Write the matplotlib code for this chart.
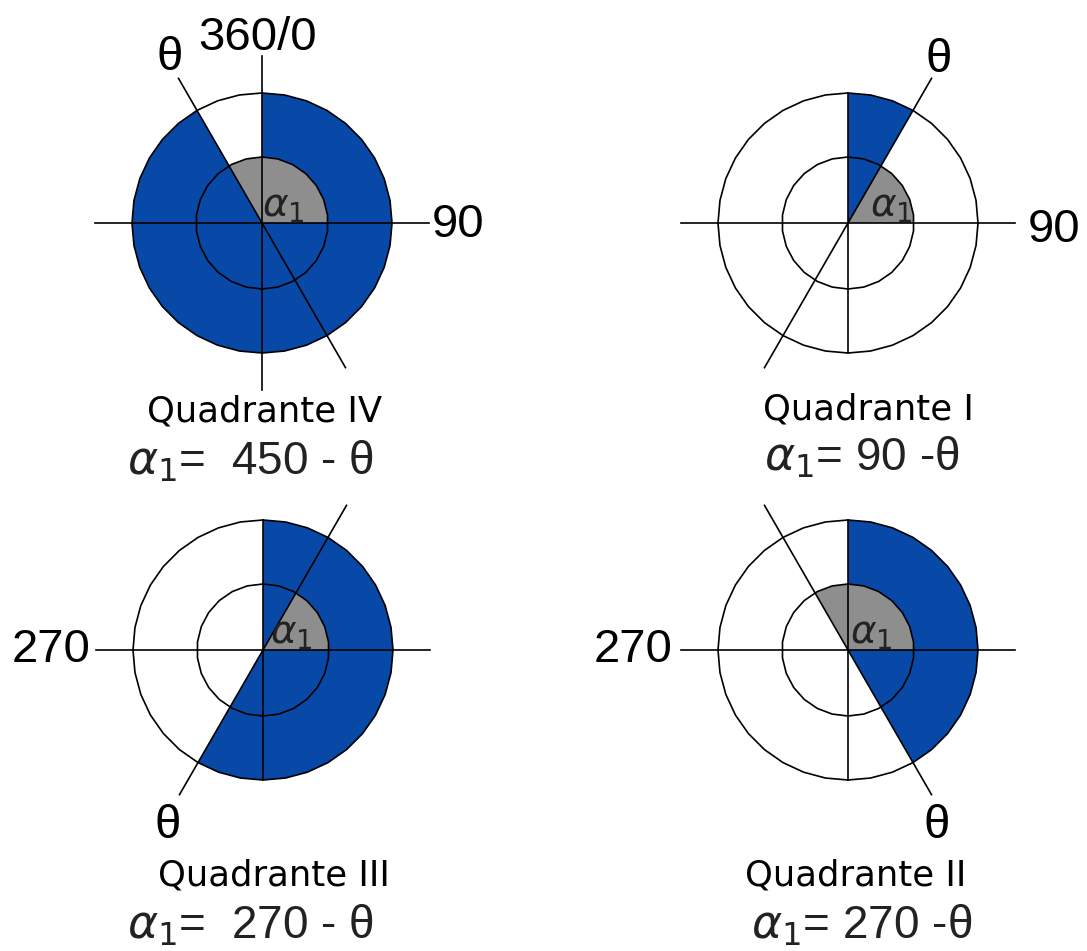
import numpy as np
import matplotlib.pyplot as plt
from matplotlib.patches import Polygon

# Dados de cada quadrante (azimute medido a partir do norte, sentido horario)
quadrantes = ['Quadrante IV', 'Quadrante I', 'Quadrante III', 'Quadrante II']
theta = [330, 30, 210, 150]          # direcao da linha theta
alpha1 = [120, 60, 60, 120]          # angulo alpha1 (setor cinza terminando em 90)
formulas = ['=  450 - θ', '= 90 -θ', '=  270 - θ', '= 270 -θ']
rotulos = ['90', '90', '270', '270']

# Layout (pixels da figura)
centros = [(262, 223), (848, 223), (263, 650), (848, 650)]
R_ext, R_int, L = 130, 66, 167
pos_rotulo = [(432, 237), (1028, 242), (90, 662), (673, 662)]
pos_theta = [(170, 70), (939, 72), (168, 838), (937, 838)]
pos_quad = [(265, 422), (868, 420), (274, 885), (856, 885)]
pos_form = [(250, 475), (862, 470), (250, 938), (862, 938)]
desloc_alpha = [(0, -6), (22, -6), (7, -6), (2, -6)]

azul = '#0849a8'
cinza = '#8e8e8e'


def raio_poligono(a, R, n):
    # raio de um poligono regular (circulo levemente facetado) no azimute a
    passo = 360.0 / n
    t = np.radians((a % passo) - passo / 2)
    return R * np.cos(np.radians(passo / 2)) / np.cos(t)


def ponto(c, r, a):
    return c[0] + r * np.sin(np.radians(a)), c[1] - r * np.cos(np.radians(a))


def setor(c, a0, a1, R, n):
    ang = np.linspace(a0, a1, 300)
    xs, ys = ponto(c, raio_poligono(ang, R, n), ang)
    return np.vstack([[c], np.column_stack([xs, ys])])


fig = plt.figure(figsize=(10.87, 9.51), dpi=100)
ax = fig.add_axes([0, 0, 1, 1])
ax.set_xlim(0, 1087)
ax.set_ylim(951, 0)
ax.axis('off')

fonte = ['Liberation Sans', 'DejaVu Sans']
n_ext, n_int = 36, 26

for i, c in enumerate(centros):
    # setor azul de 0 ate theta
    ax.add_patch(Polygon(setor(c, 0, theta[i], R_ext, n_ext), closed=True,
                         facecolor=azul, edgecolor='none', zorder=1))
    # setor cinza alpha1 no circulo interno
    ax.add_patch(Polygon(setor(c, 90 - alpha1[i], 90, R_int, n_int), closed=True,
                         facecolor=cinza, edgecolor='none', zorder=2))
    # circulos
    for R, n in [(R_ext, n_ext), (R_int, n_int)]:
        ang = np.linspace(0, 360, n + 1)
        xs, ys = ponto(c, np.full_like(ang, R), ang)
        ax.plot(xs, ys, color='black', lw=1.2, zorder=3)
    # eixos
    ax.plot([c[0] - L, c[0] + L], [c[1], c[1]], color='black', lw=1.2, zorder=3)
    vy = L if i == 0 else R_ext
    ax.plot([c[0], c[0]], [c[1] - vy, c[1] + vy], color='black', lw=1.2, zorder=3)
    # linha theta
    x0, y0 = ponto(c, L, theta[i])
    x1, y1 = ponto(c, L, theta[i] + 180)
    ax.plot([x0, x1], [y0, y1], color='black', lw=1.2, zorder=3)

    # textos
    ha = 'left' if rotulos[i] == '90' else 'right'
    ax.text(*pos_rotulo[i], rotulos[i], fontsize=34, family=fonte,
            ha=ha, va='baseline', zorder=4)
    ax.text(*pos_theta[i], 'θ', fontsize=34, family=fonte,
            ha='center', va='baseline', zorder=4)
    ax.text(*pos_quad[i], quadrantes[i], fontsize=25.5, family='DejaVu Sans',
            ha='center', va='baseline', zorder=4)
    ax.text(*pos_form[i], r'$\alpha_1$' + formulas[i], fontsize=33, family=fonte,
            color='#222222', ha='center', va='baseline', zorder=4)
    ax.text(c[0] + desloc_alpha[i][0], c[1] + desloc_alpha[i][1], r'$\alpha_1$',
            fontsize=28, color='#222222', ha='left', va='baseline', zorder=4)

ax.text(258, 50, '360/0', fontsize=34, family=fonte, ha='center', va='baseline', zorder=4)

fig.savefig('out.png', dpi=100)
